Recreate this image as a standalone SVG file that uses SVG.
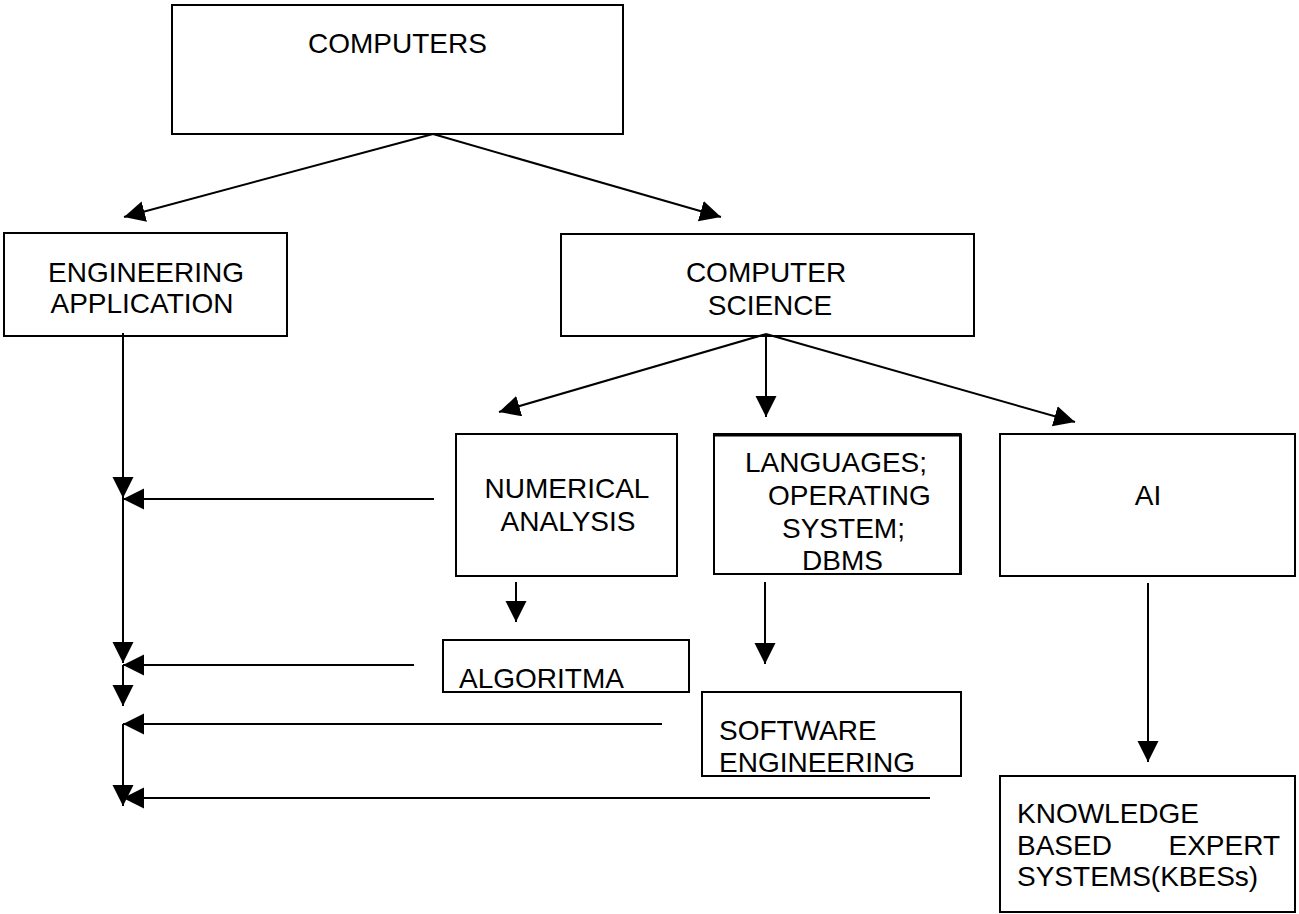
<svg xmlns="http://www.w3.org/2000/svg" width="1299" height="914" viewBox="0 0 1299 914">
<style>
.box{fill:#fff;stroke:#000;stroke-width:2}
.t{font-family:"Liberation Sans",Arial,sans-serif;font-size:28px;fill:#000}
.m{text-anchor:middle}
.c{stroke:#000;stroke-width:2;fill:none}
.a{marker-end:url(#ah)}
</style>
<defs>
<marker id="ah" markerUnits="userSpaceOnUse" markerWidth="22" markerHeight="22" refX="21" refY="10.5" orient="auto">
<path d="M0,0 L21,10.5 L0,21 z" fill="#000"/>
</marker>
</defs>
<rect width="1299" height="914" fill="#fff"/>
<g id="n-computers"><rect class="box" x="172" y="5" width="451" height="129"/><text class="t" x="308" y="53">COMPUTERS</text></g>
<g id="n-engapp"><rect class="box" x="4" y="233" width="283" height="103"/><text class="t m" x="146" y="282">ENGINEERING</text><text class="t m" x="142" y="313">APPLICATION</text></g>
<g id="n-compsci"><rect class="box" x="561" y="234" width="413" height="102"/><text class="t m" x="766" y="282">COMPUTER</text><text class="t m" x="770" y="315">SCIENCE</text></g>
<g id="n-numerical"><rect class="box" x="456" y="434" width="221" height="142"/><text class="t m" x="567" y="498">NUMERICAL</text><text class="t m" x="568" y="531">ANALYSIS</text></g>
<g id="n-languages"><rect class="box" x="714" y="434" width="246" height="140"/><path d="M714,435 H962 M960.5,434 V575" stroke="#000" stroke-width="3" fill="none"/><text class="t" x="745" y="472">LANGUAGES;</text><text class="t" x="768" y="505">OPERATING</text><text class="t" x="782" y="538">SYSTEM;</text><text class="t" x="802" y="570">DBMS</text></g>
<g id="n-ai"><rect class="box" x="1000" y="434" width="295" height="142"/><text class="t m" x="1148" y="505">AI</text></g>
<g id="n-algoritma"><rect class="box" x="443" y="640" width="246" height="52"/><text class="t" x="459" y="688">ALGORITMA</text></g>
<g id="n-software"><rect class="box" x="702" y="692" width="259" height="84"/><text class="t" x="719" y="740">SOFTWARE</text><text class="t" x="719" y="772">ENGINEERING</text></g>
<g id="n-kbes"><rect class="box" x="1000" y="776" width="295" height="136"/><text class="t" x="1017" y="823">KNOWLEDGE</text><text class="t" x="1017" y="855">BASED</text><text class="t" x="1280" y="855" text-anchor="end">EXPERT</text><text class="t" x="1017" y="886">SYSTEMS(KBESs)</text></g>
<g id="connectors">
<line class="c a" x1="433" y1="134" x2="124" y2="217"/>
<line class="c a" x1="433" y1="134" x2="721" y2="217"/>
<line class="c a" x1="766" y1="334" x2="499" y2="412"/>
<line class="c a" x1="766" y1="334" x2="766" y2="417"/>
<line class="c a" x1="766" y1="334" x2="1075" y2="422"/>
<line class="c a" x1="516" y1="582" x2="516" y2="622"/>
<line class="c a" x1="765" y1="582" x2="765" y2="664"/>
<line class="c a" x1="1148" y1="583" x2="1148" y2="762"/>
<line class="c a" x1="123" y1="333" x2="123" y2="498"/>
<line class="c a" x1="123" y1="498" x2="123" y2="663"/>
<line class="c a" x1="123" y1="665" x2="123" y2="706"/>
<line class="c a" x1="123" y1="724" x2="123" y2="806"/>
<line class="c a" x1="434" y1="499" x2="123" y2="499"/>
<line class="c a" x1="414" y1="665" x2="123" y2="665"/>
<line class="c a" x1="662" y1="724" x2="123" y2="724"/>
<line class="c a" x1="930" y1="798" x2="123" y2="798"/>
</g>
</svg>
